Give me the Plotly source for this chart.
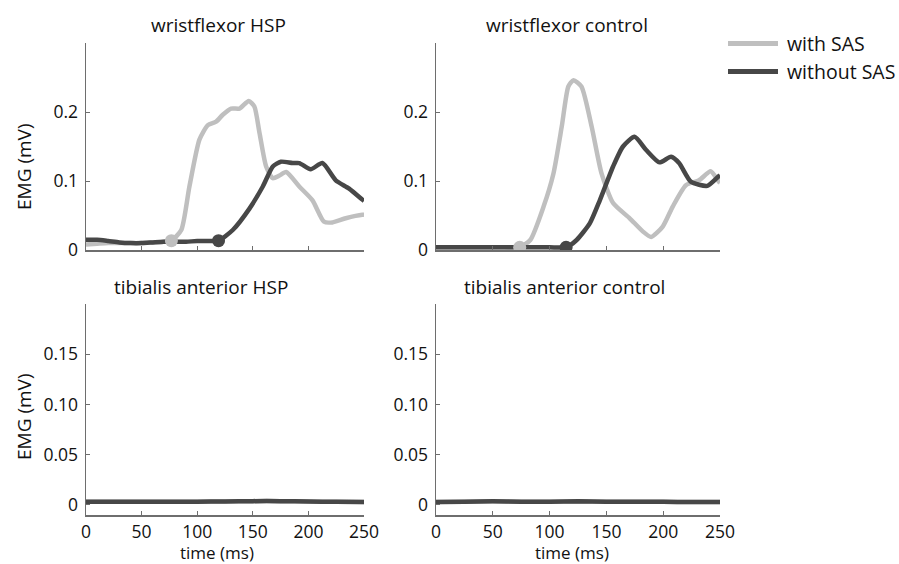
import plotly.graph_objects as go

# ---------------- data ----------------
# wristflexor HSP
wf_hsp_with_t = [0, 10, 20, 30, 40, 50, 60, 70, 76.8, 85.7, 93, 102, 109.6, 117, 123, 130.5, 138, 146.3, 151.4, 156, 162, 168, 174, 180, 191.8, 203.7, 214, 221.6, 233.6, 248.5, 250]
wf_hsp_with_v = [0.008, 0.009, 0.010, 0.010, 0.010, 0.010, 0.011, 0.012, 0.0135, 0.029, 0.092, 0.160, 0.181, 0.186, 0.196, 0.205, 0.205, 0.216, 0.208, 0.170, 0.121, 0.104, 0.108, 0.113, 0.092, 0.072, 0.041, 0.040, 0.046, 0.051, 0.051]
wf_hsp_without_t = [0, 10, 20, 30, 40, 50, 60, 70, 80, 90, 100, 110, 119.2, 132, 147, 159, 168, 175.3, 185.8, 191.8, 202, 212.6, 224.6, 236.6, 248.5, 250]
wf_hsp_without_v = [0.0150, 0.0148, 0.013, 0.011, 0.010, 0.010, 0.011, 0.012, 0.012, 0.012, 0.013, 0.013, 0.0135, 0.029, 0.060, 0.092, 0.121, 0.128, 0.126, 0.126, 0.117, 0.126, 0.101, 0.089, 0.073, 0.071]

# wristflexor control
wf_ctl_with_t = [0, 20, 40, 60, 73.7, 83, 94.7, 103.4, 110.7, 116.5, 121, 128, 137, 145.7, 155.9, 170.5, 182, 189.4, 199.6, 208.4, 220, 231.6, 241.8, 249, 250]
wf_ctl_with_v = [0.004, 0.004, 0.004, 0.004, 0.004, 0.0145, 0.063, 0.111, 0.179, 0.237, 0.246, 0.237, 0.179, 0.111, 0.068, 0.046, 0.027, 0.019, 0.034, 0.063, 0.094, 0.101, 0.114, 0.099, 0.098]
wf_ctl_without_t = [0, 20, 40, 60, 80, 100, 114.5, 123.8, 135.5, 144.2, 155.9, 164.6, 174.8, 185, 196.7, 206.9, 214, 224.3, 238.9, 249, 250]
wf_ctl_without_v = [0.004, 0.004, 0.004, 0.004, 0.004, 0.004, 0.004, 0.0145, 0.039, 0.072, 0.121, 0.150, 0.164, 0.145, 0.127, 0.135, 0.126, 0.099, 0.093, 0.107, 0.108]

# onset markers
onset_hsp_t = [76.8, 119.2]
onset_hsp_v = [0.0135, 0.0135]
onset_ctl_t = [73.7, 114.5]
onset_ctl_v = [0.004, 0.004]

# tibialis anterior
ta_t = [0, 25, 50, 75, 100, 125, 150, 175, 200, 225, 250]
ta_hsp_v = [0.0033, 0.0032, 0.0031, 0.0032, 0.0033, 0.0035, 0.0038, 0.0038, 0.0034, 0.0031, 0.0030]
ta_ctl_v = [0.0030, 0.0033, 0.0036, 0.0033, 0.0033, 0.0036, 0.0032, 0.0031, 0.0031, 0.0030, 0.0030]

x_ticks = [0, 50, 100, 150, 200, 250]
top_y_ticks = [0, 0.1, 0.2]
top_y_labels = ["0", "0.1", "0.2"]
bot_y_ticks = [0, 0.05, 0.10, 0.15]
bot_y_labels = ["0", "0.05", "0.10", "0.15"]

titles = ["wristflexor HSP", "wristflexor control", "tibialis anterior HSP", "tibialis anterior control"]
series_names = ["with SAS", "without SAS"]

LIGHT = "#bfbfbf"
DARK = "#474747"
AXC = "#6e6e6e"
FONT = "Open Sans"
TXT = "#111"
W, H = 899, 564

fig = go.Figure()

def px_x(p):
    return p / W

def px_y(p):
    return 1 - p / H

def line(x, y, color, xa, ya):
    fig.add_trace(go.Scatter(x=x, y=y, mode="lines", line=dict(color=color, width=4.5, shape="spline", smoothing=0.6),
                             xaxis=xa, yaxis=ya, showlegend=False, hoverinfo="skip"))

def mark(x, y, color, xa, ya):
    fig.add_trace(go.Scatter(x=[x], y=[y], mode="markers", marker=dict(color=color, size=13),
                             xaxis=xa, yaxis=ya, showlegend=False, hoverinfo="skip"))

# top-left
line(wf_hsp_with_t, wf_hsp_with_v, LIGHT, "x", "y")
line(wf_hsp_without_t, wf_hsp_without_v, DARK, "x", "y")
mark(onset_hsp_t[0], onset_hsp_v[0], LIGHT, "x", "y")
mark(onset_hsp_t[1], onset_hsp_v[1], DARK, "x", "y")
# top-right
line(wf_ctl_with_t, wf_ctl_with_v, LIGHT, "x2", "y2")
line(wf_ctl_without_t, wf_ctl_without_v, DARK, "x2", "y2")
mark(onset_ctl_t[0], onset_ctl_v[0], LIGHT, "x2", "y2")
mark(onset_ctl_t[1], onset_ctl_v[1], DARK, "x2", "y2")
# bottom
line(ta_t, ta_hsp_v, LIGHT, "x3", "y3")
line(ta_t, ta_hsp_v, DARK, "x3", "y3")
line(ta_t, ta_ctl_v, LIGHT, "x4", "y4")
line(ta_t, ta_ctl_v, DARK, "x4", "y4")

left_dom = [px_x(86), px_x(364)]
right_dom = [px_x(436), px_x(720)]
top_dom = [px_y(250), px_y(43)]
bot_dom = [px_y(515), px_y(304)]

def xax(dom, anchor, labels):
    return dict(domain=dom, anchor=anchor, range=[0, 250], tickvals=x_ticks, showticklabels=labels,
                showline=True, linecolor=AXC, linewidth=1.5, ticks="inside", ticklen=4, tickcolor=AXC,
                showgrid=False, zeroline=False, automargin=False, ticklabelstandoff=0,
                tickfont=dict(size=17.5, color=TXT, family=FONT))

def yax(dom, anchor, rng, tv, tt):
    return dict(domain=dom, anchor=anchor, range=rng, tickvals=tv, ticktext=tt,
                showline=True, linecolor=AXC, linewidth=1.5, ticks="inside", ticklen=4, tickcolor=AXC,
                showgrid=False, zeroline=False, automargin=False, ticklabelstandoff=3,
                tickfont=dict(size=17.5, color=TXT, family=FONT))

fig.update_layout(
    width=W, height=H, margin=dict(l=0, r=0, t=0, b=0, autoexpand=False),
    paper_bgcolor="white", plot_bgcolor="white",
    font=dict(family=FONT, color=TXT),
    xaxis=xax(left_dom, "y", False),
    yaxis=yax(top_dom, "x", [0, 0.3], top_y_ticks, top_y_labels),
    xaxis2=xax(right_dom, "y2", False),
    yaxis2=yax(top_dom, "x2", [0, 0.3], top_y_ticks, top_y_labels),
    xaxis3=xax(left_dom, "y3", True),
    yaxis3=yax(bot_dom, "x3", [-0.01, 0.2], bot_y_ticks, bot_y_labels),
    xaxis4=xax(right_dom, "y4", True),
    yaxis4=yax(bot_dom, "x4", [-0.01, 0.2], bot_y_ticks, bot_y_labels),
)

ann = []
title_pos = [(218, 25), (567, 25), (201, 287), (564, 287)]
for t, (cx, cy) in zip(titles, title_pos):
    ann.append(dict(text=t, x=px_x(cx), y=px_y(cy), xref="paper", yref="paper", showarrow=False,
                    xanchor="center", yanchor="middle", font=dict(size=19, family=FONT, color=TXT)))
for cy in [167, 417]:
    ann.append(dict(text="EMG (mV)", x=px_x(24), y=px_y(cy), xref="paper", yref="paper", showarrow=False,
                    textangle=-90, xanchor="center", yanchor="middle", font=dict(size=19, family=FONT, color=TXT)))
for cx in [217, 572]:
    ann.append(dict(text="time (ms)", x=px_x(cx), y=px_y(552), xref="paper", yref="paper", showarrow=False,
                    xanchor="center", yanchor="middle", font=dict(size=17, family=FONT, color=TXT)))
# legend
shapes = []
for name, col, cy in zip(series_names, [LIGHT, DARK], [43.5, 71.5]):
    shapes.append(dict(type="line", xref="paper", yref="paper", x0=px_x(728), x1=px_x(778),
                       y0=px_y(cy), y1=px_y(cy), line=dict(color=col, width=5)))
    ann.append(dict(text=name, x=px_x(785), y=px_y(cy), xref="paper", yref="paper", showarrow=False,
                    xanchor="left", yanchor="middle", font=dict(size=19.5, family=FONT, color=TXT)))
fig.update_layout(annotations=ann, shapes=shapes)

fig.write_html("out.html", config={"displayModeBar": False, "staticPlot": True},
               post_script="document.body.style.margin='0px';document.body.style.overflow='hidden';")
